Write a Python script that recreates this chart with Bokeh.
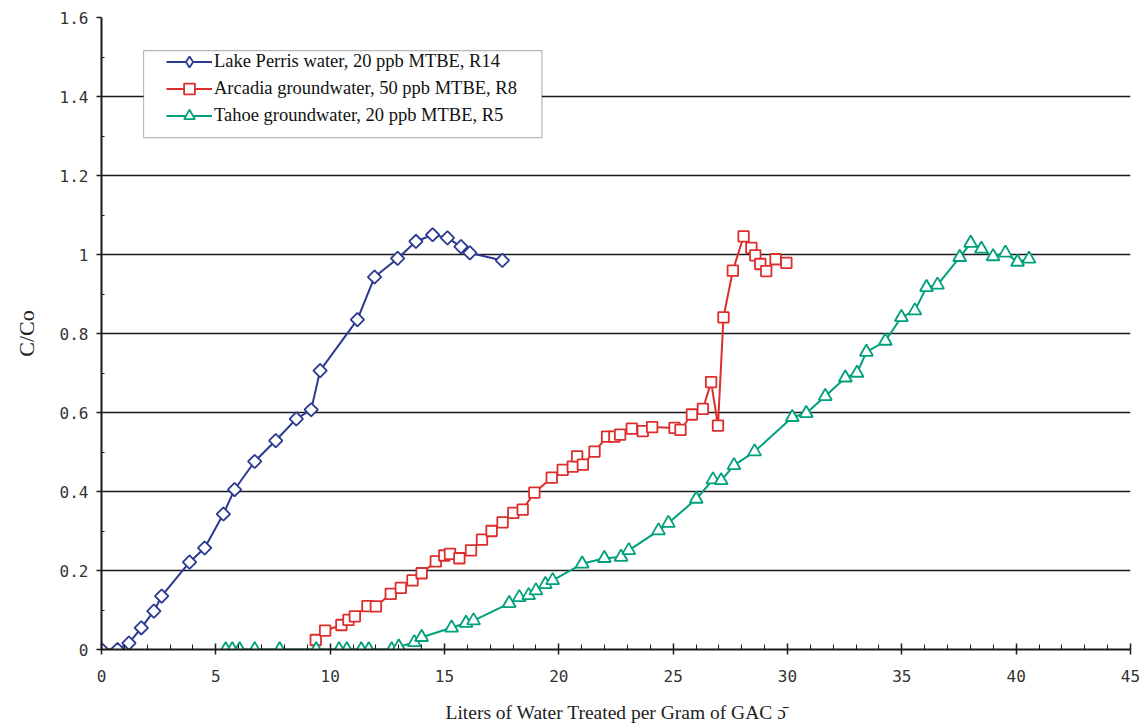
import math
from bokeh.plotting import figure
from bokeh.models import (Range1d, FixedTicker, Legend, LegendItem, BoxAnnotation,
                          ColumnDataSource)
from bokeh.embed import file_html
from bokeh.resources import INLINE

# ---------------- data ----------------
perris_x = [0.0, 0.7, 1.2, 1.74, 2.29, 2.63, 3.85, 4.51, 5.33, 5.82, 6.70, 7.62,
            8.52, 9.17, 9.56, 11.19, 11.94, 12.95, 13.75, 14.48, 15.13, 15.72,
            16.11, 17.53]
perris_y = [0.0, 0.0, 0.016, 0.055, 0.097, 0.135, 0.221, 0.257, 0.343, 0.405,
            0.476, 0.529, 0.584, 0.607, 0.706, 0.835, 0.943, 0.990, 1.033, 1.050,
            1.042, 1.020, 1.004, 0.985]

arcadia_x = [9.37, 9.78, 10.49, 10.80, 11.08, 11.63, 12.00, 12.65, 13.09, 13.60,
             14.00, 14.62, 14.99, 15.24, 15.65, 16.16, 16.64, 17.06, 17.54, 18.01,
             18.42, 18.93, 19.69, 20.17, 20.61, 20.80, 21.05, 21.56, 22.11, 22.43,
             22.68, 23.19, 23.67, 24.08, 25.06, 25.32, 25.82, 26.30, 26.66, 26.96,
             27.20, 27.61, 28.08, 28.42, 28.59, 28.81, 29.07, 29.48, 29.95]
arcadia_y = [0.024, 0.048, 0.062, 0.075, 0.084, 0.110, 0.109, 0.141, 0.156, 0.175,
             0.193, 0.223, 0.238, 0.242, 0.231, 0.251, 0.278, 0.300, 0.322, 0.346,
             0.354, 0.397, 0.435, 0.455, 0.463, 0.489, 0.468, 0.501, 0.539, 0.539,
             0.544, 0.559, 0.553, 0.563, 0.561, 0.556, 0.595, 0.609, 0.677, 0.567,
             0.841, 0.959, 1.046, 1.017, 0.998, 0.976, 0.958, 0.988, 0.979]

tahoe_x = [5.43, 5.72, 6.04, 6.70, 7.79, 9.39, 10.39, 10.73, 11.36, 11.69, 12.69,
           13.0, 13.68, 14.0, 15.31, 15.94, 16.27, 17.83, 18.27, 18.68, 19.00,
           19.41, 19.73, 21.02, 21.99, 22.72, 23.06, 24.36, 24.79, 26.01, 26.74,
           27.10, 27.66, 28.56, 30.21, 30.82, 31.65, 32.53, 33.04, 33.45, 34.28,
           34.98, 35.57, 36.08, 36.56, 37.53, 38.01, 38.48, 38.99, 39.53, 40.06,
           40.56]
tahoe_y = [0.0, 0.0, 0.0, 0.0, 0.0, 0.0, 0.0, 0.0, 0.0, 0.0, 0.0,
           0.007, 0.018, 0.031, 0.055, 0.067, 0.073, 0.117, 0.132, 0.137, 0.149,
           0.165, 0.175, 0.217, 0.231, 0.234, 0.251, 0.301, 0.320, 0.381, 0.430,
           0.428, 0.466, 0.501, 0.588, 0.598, 0.641, 0.688, 0.700, 0.753, 0.781,
           0.841, 0.858, 0.917, 0.923, 0.993, 1.029, 1.014, 0.995, 1.004, 0.981,
           0.989]

series_labels = ["Lake Perris water, 20 ppb MTBE, R14",
                 "Arcadia groundwater, 50 ppb MTBE, R8",
                 "Tahoe groundwater, 20 ppb MTBE, R5"]
x_ticks = [0, 5, 10, 15, 20, 25, 30, 35, 40, 45]
y_ticks = [0, 0.2, 0.4, 0.6, 0.8, 1.0, 1.2, 1.4, 1.6]
y_tick_labels = {0: "0", 0.2: "0.2", 0.4: "0.4", 0.6: "0.6", 0.8: "0.8",
                 1.0: "1", 1.2: "1.2", 1.4: "1.4", 1.6: "1.6"}
x_title = "Liters of Water Treated per Gram of GAC \u0254\u0304"
y_title = "C/Co"

# ---------------- styling ----------------
BLUE = "#2B3990"
RED = "#DD2E2E"
GREEN = "#00A07C"
SERIF = "Liberation Serif"
MONO = "DejaVu Sans Mono"

p = figure(width=1146, height=728, output_backend="svg", toolbar_location=None,
           x_range=Range1d(0, 45), y_range=Range1d(0, 1.6),
           min_border_left=101, min_border_right=16, min_border_top=17,
           min_border_bottom=79)
p.outline_line_color = None
p.background_fill_color = "white"
p.border_fill_color = "white"

p.xgrid.visible = False
p.ygrid.ticker = FixedTicker(ticks=y_ticks)
p.ygrid.grid_line_color = "#1a1a1a"
p.ygrid.grid_line_width = 1.5

# x axis
p.xaxis.ticker = FixedTicker(ticks=x_ticks,
                             minor_ticks=[v for v in range(0, 46) if v % 5 != 0])
p.xaxis.axis_line_color = "#1a1a1a"
p.xaxis.axis_line_width = 2
p.xaxis.major_tick_in = 6
p.xaxis.major_tick_out = 5
p.xaxis.major_tick_line_width = 1.5
p.xaxis.minor_tick_in = 5
p.xaxis.minor_tick_out = 0
p.xaxis.minor_tick_line_color = "#1a1a1a"
p.xaxis.major_tick_line_color = "#1a1a1a"
p.xaxis.major_label_text_font = MONO
p.xaxis.major_label_text_font_size = "16px"
p.xaxis.major_label_text_color = "#333333"
p.xaxis.major_label_standoff = 15
p.xaxis.axis_label = x_title
p.xaxis.axis_label_text_font = SERIF
p.xaxis.axis_label_text_font_style = "normal"
p.xaxis.axis_label_text_font_size = "19.5px"
p.xaxis.axis_label_text_color = "#222222"
p.xaxis.axis_label_standoff = 17

# y axis
p.yaxis.ticker = FixedTicker(ticks=y_ticks,
                             minor_ticks=[0.1, 0.3, 0.5, 0.7, 0.9, 1.1, 1.3, 1.5])
p.yaxis.major_label_overrides = y_tick_labels
p.yaxis.axis_line_color = "#1a1a1a"
p.yaxis.axis_line_width = 2
p.yaxis.major_tick_in = 0
p.yaxis.major_tick_out = 5
p.yaxis.major_tick_line_width = 1.5
p.yaxis.major_tick_line_color = "#1a1a1a"
p.yaxis.minor_tick_in = 3
p.yaxis.minor_tick_out = 0
p.yaxis.minor_tick_line_color = "#1a1a1a"
p.yaxis.major_label_text_font = MONO
p.yaxis.major_label_text_font_size = "16px"
p.yaxis.major_label_text_color = "#333333"
p.yaxis.major_label_standoff = 8
p.yaxis.axis_label = y_title
p.yaxis.axis_label_text_font = SERIF
p.yaxis.axis_label_text_font_style = "normal"
p.yaxis.axis_label_text_font_size = "22px"
p.yaxis.axis_label_text_color = "#222222"
p.yaxis.axis_label_standoff = 18

# series: (x, y, colour, plot marker, size, angle, legend marker)
items = []
specs = [(perris_x, perris_y, BLUE, "square", 9.5, math.pi / 4, "diamond"),
         (arcadia_x, arcadia_y, RED, "square", 10.5, 0.0, "square"),
         (tahoe_x, tahoe_y, GREEN, "triangle", 13, 0.0, "triangle")]
for (xs, ys, col, mk, sz, ang, lmk), lab in zip(specs, series_labels):
    src = ColumnDataSource(dict(x=xs, y=ys))
    ln = p.line("x", "y", source=src, line_color=col, line_width=2)
    sc = p.scatter("x", "y", source=src, marker=mk, size=sz, angle=ang,
                   line_color=col, line_width=1.8, fill_color="white")
    if lmk != mk:
        # legend-only glyph: an empty (NaN) point, so nothing shows in the plot
        nan_src = ColumnDataSource(dict(x=[float("nan")], y=[float("nan")]))
        leg = p.scatter("x", "y", source=nan_src, marker=lmk, size=sz,
                        line_color=col, line_width=1.8, fill_color="white")
        items.append(LegendItem(label=lab, renderers=[ln, leg]))
    else:
        items.append(LegendItem(label=lab, renderers=[ln, sc]))

# legend frame
box = BoxAnnotation(left=1.84, right=19.26, top=1.516, bottom=1.296,
                    fill_color="white", fill_alpha=1.0,
                    line_color="#111111", line_width=1.2, level="annotation")
p.add_layout(box)

legend = Legend(items=items, location=(65, 520), margin=0, padding=0,
                spacing=0, glyph_width=46, glyph_height=27, label_standoff=2,
                label_text_font=SERIF, label_text_font_size="18.5px",
                label_text_color="#111111",
                border_line_color=None, background_fill_alpha=0)
p.add_layout(legend)

open("out.html", "w").write(file_html(p, INLINE))
